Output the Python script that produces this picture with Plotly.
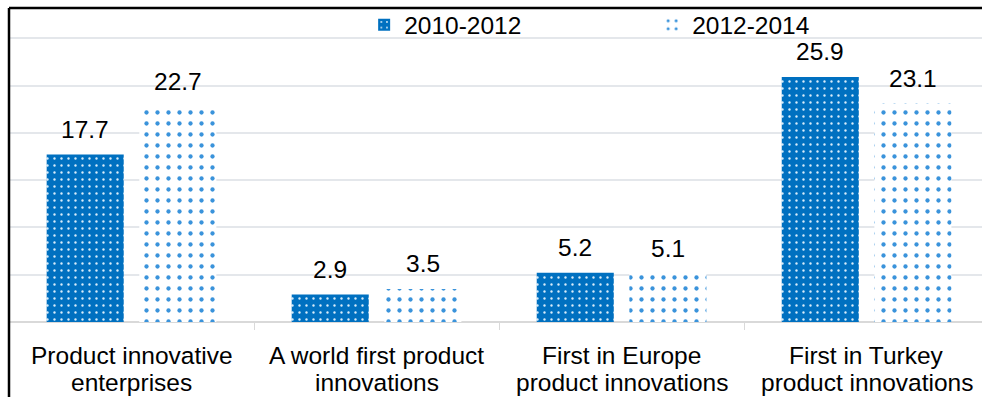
import plotly.graph_objects as go

categories = ["Product innovative enterprises", "A world first product innovations",
              "First in Europe product innovations", "First in Turkey product innovations"]
label_line1 = ["Product innovative", "A world first product", "First in Europe", "First in Turkey"]
label_line2 = ["enterprises", "innovations", "product innovations", "product innovations"]
series_names = ["2010-2012", "2012-2014"]
values_2010_2012 = [17.7, 2.9, 5.2, 25.9]
values_2012_2014 = [22.7, 3.5, 5.1, 23.1]

FONT = "Liberation Sans, Arial, sans-serif"
FS = 24.5
BLUE = "#0070c0"
LIGHTBLUE = "#3a93db"

fig = go.Figure()
fig.add_trace(go.Bar(
    x=categories, y=values_2010_2012, name=series_names[0],
    marker=dict(color=BLUE, line=dict(width=0),
                pattern=dict(shape=".", bgcolor=BLUE, fgcolor="#d8ecfa",
                             size=7, solidity=0.09, fillmode="replace")),
))
fig.add_trace(go.Bar(
    x=categories, y=values_2012_2014, name=series_names[1],
    marker=dict(color="white", line=dict(width=0),
                pattern=dict(shape=".", bgcolor="white", fgcolor=LIGHTBLUE,
                             size=11, solidity=0.12, fillmode="replace")),
))

# data labels
for vals, shift in [(values_2010_2012, -46.3), (values_2012_2014, 46.3)]:
    for c, v in zip(categories, vals):
        fig.add_annotation(x=c, y=v, text=f"{v:.1f}", showarrow=False,
                           xshift=shift, yshift=10, yanchor="bottom",
                           font=dict(family=FONT, size=FS, color="black"))

# category labels (two lines)
for c, l1, l2 in zip(categories, label_line1, label_line2):
    fig.add_annotation(x=c, y=0, yref="y", text=l1, showarrow=False, yanchor="middle",
                       yshift=-33, font=dict(family=FONT, size=FS, color="black"))
    fig.add_annotation(x=c, y=0, yref="y", text=l2, showarrow=False, yanchor="middle",
                       yshift=-60, font=dict(family=FONT, size=FS, color="black"))

fig.update_layout(
    width=982, height=397,
    margin=dict(l=9, r=0, t=8, b=75),
    paper_bgcolor="white", plot_bgcolor="white",
    barmode="group", bargap=0.244, bargroupgap=0.168,
    font=dict(family=FONT, size=FS, color="black"),
    showlegend=True,
    legend=dict(orientation="h", x=0.365, xanchor="left", y=1.018, yanchor="top",
                font=dict(family=FONT, size=FS, color="black"),
                bgcolor="rgba(0,0,0,0)", entrywidth=243, entrywidthmode="pixels",
                itemwidth=30, tracegroupgap=0),
    xaxis=dict(range=[-0.5, 3.471], showticklabels=False, ticks="outside",
               tickson="boundaries", ticklen=7, tickcolor="#d9d9d9", tickwidth=1,
               showgrid=False, showline=False, zeroline=False),
    yaxis=dict(range=[0, 33.2], dtick=5, showticklabels=False, showgrid=True,
               gridcolor="#e4e7eb", gridwidth=2, zeroline=True, zerolinecolor="#d9d9d9",
               zerolinewidth=2, showline=False),
)

# frame lines (top and left)
fig.add_shape(type="line", xref="paper", yref="paper", x0=0, x1=1.02, y0=1, y1=1,
              line=dict(color="black", width=2.5))
fig.add_shape(type="line", xref="paper", yref="paper", x0=0, x1=0, y0=1, y1=-0.3,
              line=dict(color="black", width=2.5))

fig.write_html("out.html")
